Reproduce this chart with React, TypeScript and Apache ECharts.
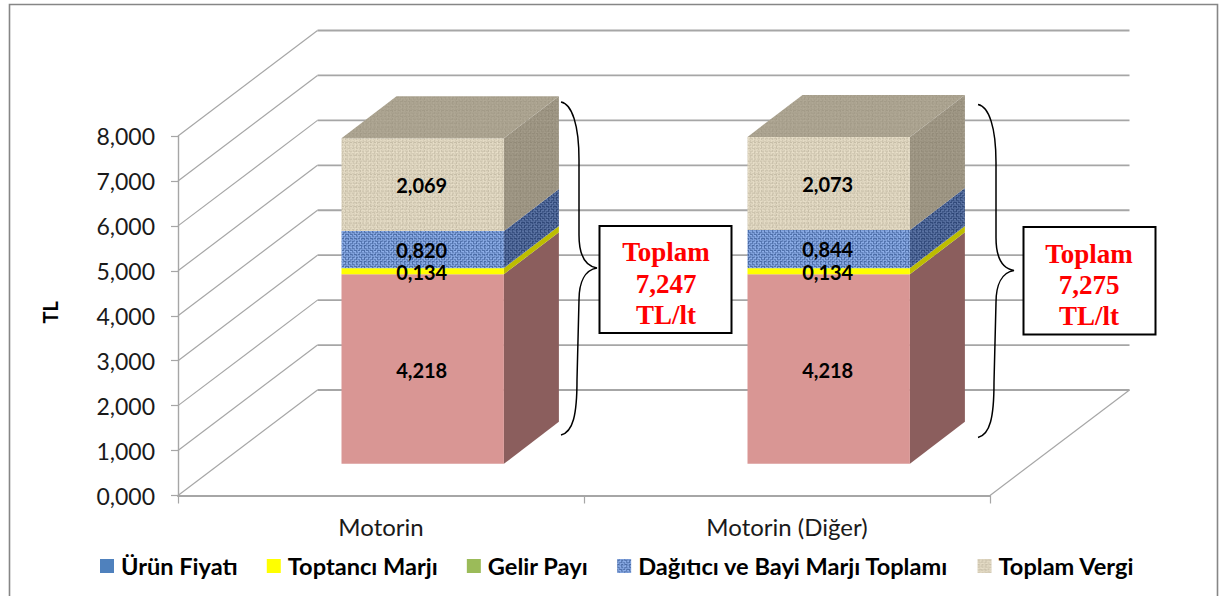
import React, { useEffect, useRef } from "react";
import * as echarts from "echarts";

const categories = ["Motorin", "Motorin (Diğer)"];
const seriesNames = ["Ürün Fiyatı", "Toptancı Marjı", "Gelir Payı", "Dağıtıcı ve Bayi Marjı Toplamı", "Toplam Vergi"];
const urunFiyati = [4.218, 4.218];
const toptanciMarji = [0.134, 0.134];
const gelirPayi = [0.006, 0.006];
const dagiticiMarji = [0.82, 0.844];
const toplamVergi = [2.069, 2.073];
const allValues = [urunFiyati, toptanciMarji, gelirPayi, dagiticiMarji, toplamVergi];
const yTicks = [0, 1, 2, 3, 4, 5, 6, 7, 8];
const legendColors = ["#4F81BD", "#FFFF00", "#9BBB59"];
const totals = [
  { lines: ["Toplam", "7,247", "TL/lt"], cx: 666, ys: [252, 284, 315] },
  { lines: ["Toplam", "7,275", "TL/lt"], cx: 1089, ys: [254, 285, 316] },
];

const fmt = (v: number) => v.toFixed(3).replace(".", ",");

const WALL_DX = 139.5;
const WALL_DY = 105.5;
const BAR_FRONT_DX = 41.7;
const BAR_FRONT_DY = 31.7;
const BAR_DX = 55;
const BAR_DY = 42;
const BAR_WIDTH_RATIO = 0.4;
const GRID_COLOR = "#A6A6A6";
const SANS = "Lato";

const rowShadeTan = [0, -6, 5, -2, 7, -10, 3, 0, -4, 8, -7, 2, 6, -3, -12, 4, 1, -5, 7, -1, -8, 5, 2, -6, 9, -3, 0, -9, 4, 6, -2, -5];
const colShadeTan = [3, -5, 0, 8, -9, 2, 5, -2, -11, 6, 1, -4, 7, 0, -6, 4, -3, 9, -8, 1, 5, -1, -7, 3, 8, -10, 2, -2, 6, -5, 0, 4];
const rowShadeBlue = [10, -18, 22, -8, 16, -24, 6, 20, -14, 12, -20, 24, -6, 14, -22, 8];
const colShadeBlue = [-12, 14, -4, 20, -18, 8, 16, -10, 22, -16, 4, 12, -22, 18, -6, 10];

function clamp(v: number) {
  return Math.max(0, Math.min(255, Math.round(v)));
}

function weave(base: number[], rows: number[], cols: number[], gain: number) {
  const size = rows.length;
  const canvas = document.createElement("canvas");
  canvas.width = size;
  canvas.height = size;
  const ctx = canvas.getContext("2d")!;
  for (let y = 0; y < size; y++) {
    for (let x = 0; x < size; x++) {
      const over = ((x >> 1) + (y >> 1)) % 2 === 0;
      const d = (over ? rows[y] * 1.4 : cols[x] * 1.4) * gain;
      ctx.fillStyle = `rgb(${clamp(base[0] + d)},${clamp(base[1] + d)},${clamp(base[2] + d)})`;
      ctx.fillRect(x, y, 1, 1);
    }
  }
  return { image: canvas.toDataURL(), repeat: "repeat", imageWidth: size, imageHeight: size };
}

const BRACE =
  "M0 0 C11 2 18 23 18 58 L18 133 C18 153 24 164 36 166 C24 168 18 180 18 198 L16 278 C16 313 12 330 0 333";
echarts.graphic.registerShape("brace", echarts.graphic.extendPath(BRACE, {}));

export default function App() {
  const ref = useRef<HTMLDivElement>(null);
  useEffect(() => {
    const chart = echarts.init(ref.current!, undefined, { renderer: "svg" });

    const tanFront = weave([217, 208, 186], rowShadeTan, colShadeTan, 1.1);
    const tanSide = weave([156, 148, 130], rowShadeTan, colShadeTan, 0.6);
    const tanTop = weave([170, 162, 143], rowShadeTan, colShadeTan, 0.5);
    const blueFront = weave([108, 141, 199], rowShadeBlue, colShadeBlue, 1.0);
    const blueSide = weave([70, 94, 142], rowShadeBlue, colShadeBlue, 0.7);

    const fronts: any[] = ["#D99694", "#FFFF00", "#9BBB59", blueFront, tanFront];
    const sides: any[] = ["#8B5E5D", "#BDBD00", "#6F8640", blueSide, tanSide];

    const wallSeries = {
      type: "custom",
      silent: true,
      z: 1,
      data: yTicks.map((v) => [0, v]),
      renderItem: (params: any, api: any) => {
        const sys = params.coordSys;
        const v = api.value(1);
        const y = api.coord([0, v])[1];
        const x0 = sys.x;
        const x1 = sys.x + sys.width;
        const children: any[] = [
          {
            type: "line",
            shape: { x1: x0, y1: y, x2: x0 + WALL_DX, y2: y - WALL_DY },
            style: { stroke: GRID_COLOR, lineWidth: 1.2 },
          },
          {
            type: "line",
            shape: { x1: x0 + WALL_DX, y1: y - WALL_DY, x2: x1 + WALL_DX, y2: y - WALL_DY },
            style: { stroke: GRID_COLOR, lineWidth: 1.8 },
          },
        ];
        if (v === 0) {
          children.push({
            type: "line",
            shape: { x1, y1: y, x2: x1 + WALL_DX, y2: y - WALL_DY },
            style: { stroke: GRID_COLOR, lineWidth: 1.2 },
          });
        }
        return { type: "group", children };
      },
    };

    const barSeries = seriesNames.map((name, si) => {
      const values = allValues[si];
      const rows = values.map((val, ci) => {
        let start = 0;
        for (let k = 0; k < si; k++) start += allValues[k][ci];
        return [ci, start, start + val, val];
      });
      const isLast = si === seriesNames.length - 1;
      return {
        type: "custom",
        name,
        z: 3,
        itemStyle: { color: si < 3 ? legendColors[si] : si === 3 ? blueFront : tanFront },
        encode: { x: 0, y: [1, 2] },
        data: rows,
        renderItem: (_params: any, api: any) => {
          const c = api.value(0);
          const base = api.coord([c, api.value(1)]);
          const top = api.coord([c, api.value(2)]);
          const w = api.size([1, 0])[0] * BAR_WIDTH_RATIO;
          const x0 = base[0] - w / 2 + BAR_FRONT_DX;
          const x1 = x0 + w;
          const yb = base[1] - BAR_FRONT_DY;
          const yt = top[1] - BAR_FRONT_DY;
          const val = api.value(3);
          const children: any[] = [
            {
              type: "polygon",
              shape: { points: [[x1, yb], [x1 + BAR_DX, yb - BAR_DY], [x1 + BAR_DX, yt - BAR_DY], [x1, yt]] },
              style: { fill: sides[si] },
            },
            {
              type: "rect",
              shape: { x: x0, y: yt, width: w, height: yb - yt },
              style: { fill: fronts[si] },
            },
          ];
          if (isLast) {
            children.push({
              type: "polygon",
              shape: { points: [[x0, yt], [x0 + BAR_DX, yt - BAR_DY], [x1 + BAR_DX, yt - BAR_DY], [x1, yt]] },
              style: { fill: tanTop },
            });
          }
          if (val >= 0.01) {
            children.push({
              type: "text",
              z2: 100,
              style: {
                text: fmt(val),
                x: (x0 + x1) / 2 - 1,
                y: (yb + yt) / 2 + 0.5,
                align: "center",
                verticalAlign: "middle",
                font: `bold 20px ${SANS}`,
                fill: "#000",
              },
            });
          }
          return { type: "group", children };
        },
      };
    });

    const boxes = [
      { x: 599.5, y: 226, width: 132, height: 107 },
      { x: 1023.5, y: 227, width: 132, height: 107.5 },
    ];

    chart.setOption({
      animation: false,
      backgroundColor: "#fff",
      grid: { left: 178, top: 136, width: 812, height: 359.5 },
      xAxis: {
        type: "category",
        data: categories,
        axisLine: { lineStyle: { color: GRID_COLOR, width: 2 } },
        axisTick: { show: true, length: 8, lineStyle: { color: GRID_COLOR, width: 1.2 } },
        axisLabel: { margin: 19, fontFamily: SANS, fontSize: 24, color: "#1a1a1a" },
      },
      yAxis: {
        type: "value",
        min: 0,
        max: 8,
        interval: 1,
        name: "TL",
        nameLocation: "middle",
        nameGap: 118,
        nameRotate: 90,
        nameTextStyle: { fontFamily: SANS, fontWeight: "bold", fontSize: 20, color: "#000", padding: [0, 0, 0, 7] },
        axisLine: { show: true, lineStyle: { color: GRID_COLOR, width: 1.4 } },
        axisTick: { show: true, length: 7, lineStyle: { color: GRID_COLOR, width: 1.2 } },
        splitLine: { show: false },
        axisLabel: { margin: 23, fontFamily: SANS, fontSize: 23, color: "#1a1a1a", formatter: (v: number) => fmt(v) },
      },
      legend: {
        data: seriesNames,
        left: 95,
        top: 549,
        width: 1110,
        itemWidth: 14,
        itemHeight: 14,
        itemGap: 29,
        icon: "rect",
        selectedMode: false,
        textStyle: { fontFamily: SANS, fontWeight: "bold", fontSize: 23.6, color: "#000", padding: [0, 0, 0, 2] },
      },
      series: [wallSeries, ...barSeries],
      graphic: {
        elements: [
          {
            type: "rect",
            z: 0,
            shape: { x: 9.5, y: 4.5, width: 1208, height: 620 },
            style: { fill: "none", stroke: "#868686", lineWidth: 1.6 },
          },
          ...boxes.map((b) => ({
            type: "rect",
            z: 10,
            shape: b,
            style: { fill: "#fff", stroke: "#000", lineWidth: 2 },
          })),
          { type: "brace", z: 10, x: 561, y: 102, style: { fill: "none", stroke: "#000", lineWidth: 1.5 } },
          { type: "brace", z: 10, x: 978, y: 104.5, style: { fill: "none", stroke: "#000", lineWidth: 1.5 } },
          ...totals.flatMap((t) =>
            t.lines.map((line, i) => ({
              type: "text",
              z: 11,
              style: {
                text: line,
                x: t.cx,
                y: t.ys[i],
                align: "center",
                verticalAlign: "middle",
                font: 'bold 27px "Liberation Serif"',
                fill: "#FF0000",
              },
            }))
          ),
        ],
      },
    });
    return () => chart.dispose();
  }, []);
  return <div ref={ref} style={{ position: "fixed", left: 0, top: 0, width: 1219, height: 596 }} />;
}
